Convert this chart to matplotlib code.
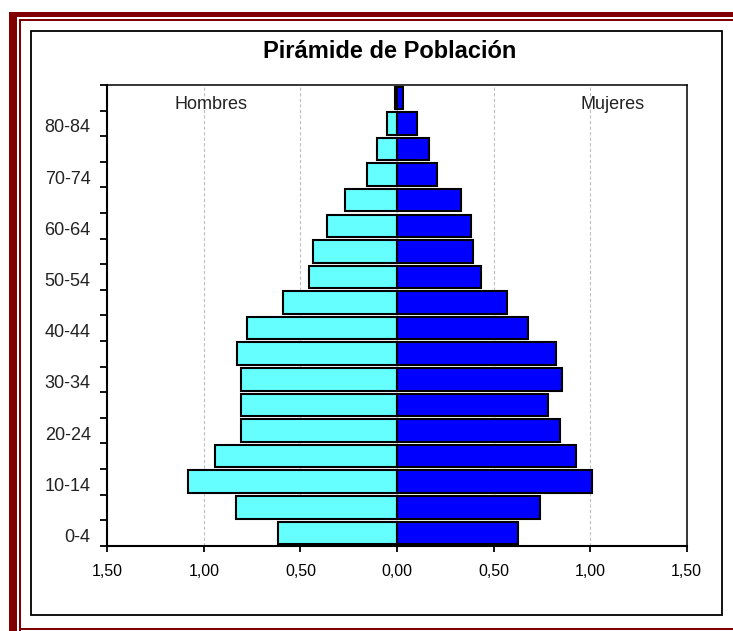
import numpy as np
import matplotlib
matplotlib.use('Agg')
import matplotlib.pyplot as plt
import matplotlib.transforms as mtransforms
from matplotlib.patches import Rectangle

# datos (porcentaje de la poblacion)
grupos = ['0-4', '5-9', '10-14', '15-19', '20-24', '25-29', '30-34', '35-39', '40-44',
          '45-49', '50-54', '55-59', '60-64', '65-69', '70-74', '75-79', '80-84', '85+']
hombres = [0.616, 0.833, 1.084, 0.94, 0.806, 0.806, 0.806, 0.826, 0.775,
           0.588, 0.455, 0.435, 0.362, 0.27, 0.155, 0.103, 0.052, 0.012]
mujeres = [0.629, 0.742, 1.01, 0.928, 0.845, 0.784, 0.856, 0.825, 0.68,
           0.567, 0.433, 0.392, 0.383, 0.33, 0.206, 0.165, 0.103, 0.031]
xticks = [-1.5, -1.0, -0.5, 0.0, 0.5, 1.0, 1.5]

W, H = 733, 631
plt.rcParams['font.family'] = ['Liberation Sans', 'DejaVu Sans']

fig = plt.figure(figsize=(W/100, H/100), dpi=100)
fig.patch.set_facecolor('white')

def px(x0, y0, x1, y1):
    # rect en pixeles (origen arriba-izq) -> fraccion de figura
    return (x0/W, 1-y1/H), (x1-x0)/W, (y1-y0)/H

maroon = '#800000'
for r in [(9, 12, 17, H+5), (9, 12, W+5, 17), (19, 19, 21, H+5), (19, 19, W+5, 21), (19, 628, W+5, 630)]:
    xy, w, h = px(*r)
    fig.add_artist(Rectangle(xy, w, h, transform=fig.transFigure, facecolor=maroon, edgecolor='none'))
xy, w, h = px(31, 31, 722, 615)
fig.add_artist(Rectangle(xy, w, h, transform=fig.transFigure, facecolor='none', edgecolor='black', lw=1.3))

ax = fig.add_axes([107.3/W, 1-545.7/H, (686.7-107.3)/W, (545.7-85)/H])
y = np.arange(len(grupos))
ax.barh(y, -np.array(hombres), height=0.88, color='#66FFFF', edgecolor='black', lw=1.5, zorder=3)
ax.barh(y, mujeres, height=0.88, color='#0000FF', edgecolor='black', lw=1.5, zorder=3)

ax.set_xlim(-1.5, 1.5)
ax.set_ylim(-0.5, len(grupos)-0.5)
ax.set_xticks(xticks)
ax.set_xticklabels([f"{abs(v):.2f}".replace('.', ',') for v in xticks], fontsize=11.5)
ax.set_yticks(y[::2])
ax.set_yticklabels(grupos[::2], fontsize=13, color='#222222')
ax.set_yticks(np.arange(-0.5, len(grupos), 1), minor=True)
ax.tick_params(axis='y', which='major', length=0, pad=12)
ax.tick_params(axis='y', which='minor', length=5, width=1.3, direction='out')
ax.tick_params(axis='x', length=4.5, width=1.3, pad=9)
# etiquetas un poco mas abajo, como en el original
off = mtransforms.ScaledTranslation(0, -2.5/100, fig.dpi_scale_trans)
for lbl in ax.get_yticklabels():
    lbl.set_transform(lbl.get_transform() + off)
ax.xaxis.grid(True, ls=(0, (3, 2)), color='#c0c0c0', lw=0.8)
ax.set_axisbelow(True)
for s in ['left', 'bottom']:
    ax.spines[s].set_linewidth(1.5)
for s in ['top', 'right']:
    ax.spines[s].set_linewidth(1.1)

ax.text(0.179, 0.957, 'Hombres', transform=ax.transAxes, ha='center', va='center',
        fontsize=13, color='#222222')
ax.text(0.8716, 0.957, 'Mujeres', transform=ax.transAxes, ha='center', va='center',
        fontsize=13, color='#222222')

fig.text(0.532, 0.918, 'Pirámide de Población', ha='center', va='center',
         fontsize=17, fontweight='bold')

fig.savefig('out.png', dpi=100)
